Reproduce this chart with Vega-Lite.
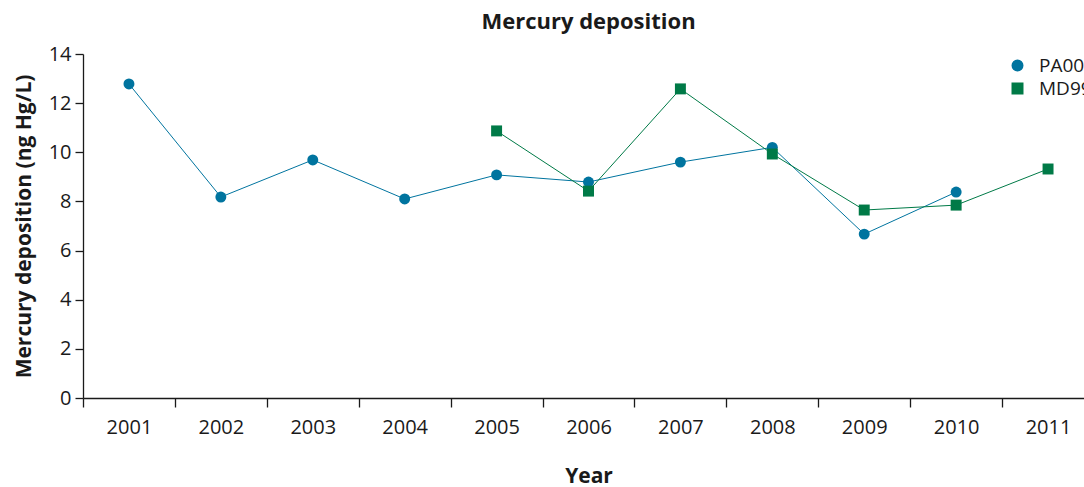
{
  "$schema": "https://vega.github.io/schema/vega-lite/v6.json",
  "width": 1001,
  "height": 344,
  "autosize": {"type": "none"},
  "padding": {"left": 83, "top": 54, "right": 0, "bottom": 89},
  "background": "white",
  "config": {
    "font": "Open Sans",
    "view": {"stroke": null},
    "axis": {"grid": false, "domainColor": "#1a1a1a", "tickColor": "#1a1a1a", "labelColor": "#1a1a1a", "titleColor": "#1a1a1a"}
  },
  "title": {"text": "Mercury deposition", "fontSize": 22, "fontWeight": "bold", "font": "Open Sans", "color": "#1a1a1a", "anchor": "middle", "dx": 5, "offset": 10},
  "data": {
    "values": [
      {"year": "2001", "site": "PA00", "value": 12.78},
      {"year": "2002", "site": "PA00", "value": 8.18},
      {"year": "2003", "site": "PA00", "value": 9.69},
      {"year": "2004", "site": "PA00", "value": 8.10},
      {"year": "2005", "site": "PA00", "value": 9.08},
      {"year": "2006", "site": "PA00", "value": 8.79},
      {"year": "2007", "site": "PA00", "value": 9.60},
      {"year": "2008", "site": "PA00", "value": 10.20},
      {"year": "2009", "site": "PA00", "value": 6.67},
      {"year": "2010", "site": "PA00", "value": 8.38},
      {"year": "2005", "site": "MD99", "value": 10.87},
      {"year": "2006", "site": "MD99", "value": 8.42},
      {"year": "2007", "site": "MD99", "value": 12.58},
      {"year": "2008", "site": "MD99", "value": 9.93},
      {"year": "2009", "site": "MD99", "value": 7.65},
      {"year": "2010", "site": "MD99", "value": 7.85},
      {"year": "2011", "site": "MD99", "value": 9.32}
    ]
  },
  "encoding": {
    "x": {
      "field": "year", "type": "ordinal",
      "scale": {"type": "band", "range": [0, 1011], "paddingInner": 0, "paddingOuter": 0, "domain": ["2001","2002","2003","2004","2005","2006","2007","2008","2009","2010","2011"]},
      "axis": {"title": "Year", "labelAngle": 0, "tickBand": "extent", "tickSize": 9, "labelPadding": 10, "labelFontSize": 20, "titleFontSize": 21, "titleFontWeight": "bold", "titlePadding": 28, "domainWidth": 1.3, "tickWidth": 1.3}
    },
    "y": {
      "field": "value", "type": "quantitative",
      "scale": {"domain": [0, 14], "nice": false},
      "axis": {"title": "Mercury deposition (ng Hg/L)", "values": [0,2,4,6,8,10,12,14], "tickSize": 8, "labelPadding": 4, "labelFontSize": 20, "titleFontSize": 21, "titleFontWeight": "bold", "titlePadding": 14, "domainWidth": 1.3, "tickWidth": 1.3}
    },
    "color": {
      "field": "site", "type": "nominal",
      "scale": {"domain": ["PA00", "MD99"], "range": ["#00749f", "#007a47"]},
      "legend": {"title": null, "orient": "none", "legendX": 925, "legendY": 2, "labelFontSize": 19, "symbolSize": 110, "labelColor": "#1a1a1a", "rowPadding": 3, "labelOffset": 12}
    }
  },
  "layer": [
    {
      "mark": {"type": "line", "strokeWidth": 1}
    },
    {
      "mark": {"type": "point", "filled": true, "size": 120, "opacity": 1},
      "encoding": {
        "shape": {"field": "site", "type": "nominal", "scale": {"domain": ["PA00", "MD99"], "range": ["circle", "square"]}, "legend": {"title": null, "orient": "none", "legendX": 925, "legendY": 2, "labelFontSize": 19, "symbolSize": 110, "labelColor": "#1a1a1a", "rowPadding": 3, "labelOffset": 12}}
      }
    }
  ]
}
